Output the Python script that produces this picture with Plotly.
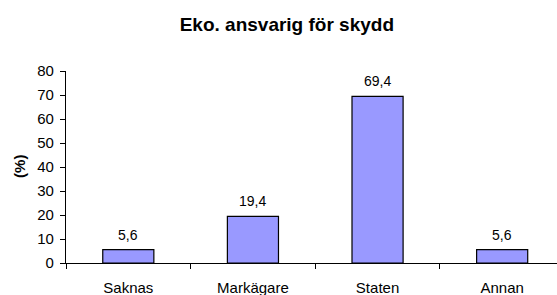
import plotly.graph_objects as go

categories = ["Saknas", "Markägare", "Staten", "Annan"]
values = [5.6, 19.4, 69.4, 5.6]
y_ticks = [0, 10, 20, 30, 40, 50, 60, 70, 80]

FONT = "Liberation Sans, Arial, sans-serif"

fig = go.Figure()
fig.add_trace(go.Bar(
    x=categories, y=values,
    marker=dict(color="#9999FF", line=dict(color="black", width=1.2)),
    hoverinfo="x+y",
))
for c, v in zip(categories, values):
    fig.add_annotation(
        x=c, y=v, xref="x", yref="y", text=f"{v:.1f}".replace(".", ","),
        showarrow=False, xanchor="center", yanchor="bottom", yshift=5,
        font=dict(family=FONT, size=14, color="black"),
    )
fig.update_layout(
    width=557, height=295,
    margin=dict(l=66, r=0, t=71, b=32, autoexpand=False),
    paper_bgcolor="white", plot_bgcolor="white",
    separators=",.",
    bargap=0.59,
    showlegend=False,
    font=dict(family=FONT, size=15, color="black"),
    title=dict(text="<b>Eko. ansvarig för skydd</b>", xref="container", x=0.515,
               xanchor="center", yref="container", y=0.918, yanchor="middle",
               font=dict(size=19)),
)
fig.add_annotation(
    text="<b>(%)</b>", xref="paper", yref="paper", x=-0.096, y=0.505,
    xanchor="center", yanchor="middle", textangle=-90, showarrow=False,
    font=dict(family=FONT, size=15, color="black"),
)
fig.update_xaxes(
    type="category", range=[-0.5, 3.44], automargin=False,
    showline=True, linecolor="black", linewidth=1.2,
    ticks="outside", tickson="boundaries", ticklen=5, tickcolor="black", tickwidth=1.2,
    showgrid=False, tickfont=dict(size=15), ticklabelstandoff=11,
)
fig.update_yaxes(
    range=[0, 80], tickvals=y_ticks, automargin=False,
    showline=True, linecolor="black", linewidth=1.2,
    ticks="outside", ticklen=5, tickcolor="black", tickwidth=1.2,
    showgrid=False, zeroline=False, tickfont=dict(size=15), ticklabelstandoff=3,
)
fig.write_html(
    "out.html",
    config={"displayModeBar": False},
    post_script="document.body.style.margin='0';document.body.style.overflow='hidden';",
)
